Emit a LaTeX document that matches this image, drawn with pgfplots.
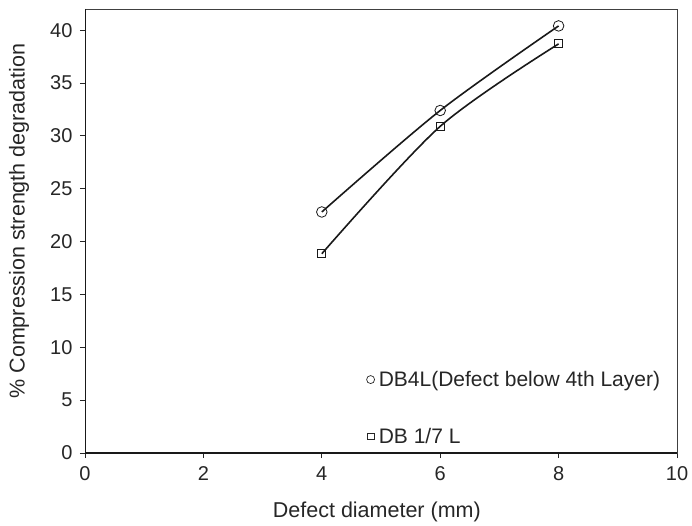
\documentclass[border=0pt]{standalone}
\usepackage{fontspec}
\setmainfont{Liberation Sans}
\usepackage{pgfplots}
\pgfplotsset{compat=1.18}
\begin{document}
\begin{tikzpicture}
\begin{axis}[
  width=592pt, height=444pt, scale only axis,
  xmin=0, xmax=10, ymin=0, ymax=42,
  xtick={0,2,...,10}, ytick={0,5,...,40},
  tick align=outside, xtick pos=bottom, ytick pos=left,
  major tick length=5pt,
  axis line style={draw=black!75, line width=0.8pt},
  every tick/.style={black!85, line width=0.8pt},
  /pgf/number format/assume math mode=true,
  tick label style={font=\fontsize{20}{24}\selectfont, text=black!85},
  yticklabel style={xshift=-4pt},
  xticklabel style={yshift=-5pt},
  xlabel={Defect diameter (mm)},
  ylabel={\% Compression strength degradation},
  xlabel style={font=\fontsize{21.5}{25}\selectfont, text=black!85,
    at={(axis description cs:0.493,-0.146)}, anchor=base},
  ylabel style={font=\fontsize{21.5}{25}\selectfont, text=black!85,
    at={(axis description cs:-0.1115,0.5225)}, anchor=center, rotate=0},
  legend style={at={(axis cs:4.75,7.85)}, anchor=north west, draw=none, fill=none,
    row sep=38pt, font=\fontsize{21}{25}\selectfont, inner sep=0pt,
    nodes={inner sep=1pt, text=black!85}},
  legend cell align=left,
  legend image code/.code={\path (0pt,0pt) (11pt,0pt); \draw[#1] plot coordinates {(4pt,0pt)};},
]
\addplot[black!90, line width=1.6pt, smooth, mark=o, mark size=5.3pt,
  mark options={solid, line width=0.8pt, fill=white}, forget plot]
  coordinates {(4,22.8) (6,32.4) (8,40.4)};
\addplot[black!90, line width=1.6pt, smooth, mark=square, mark size=4pt,
  mark options={solid, line width=0.8pt, fill=white}, forget plot]
  coordinates {(4,18.85) (6,30.9) (8,38.7)};
\addlegendimage{only marks, mark=o, mark size=4pt, black!85, mark options={line width=0.7pt}}
\addlegendentry{DB4L(Defect below 4th Layer)}
\addlegendimage{only marks, mark=square, mark size=3.4pt, black!85, mark options={line width=0.7pt}}
\addlegendentry{DB 1/7 L}
\draw[black!90, line width=1.5pt] (rel axis cs:0,1) -- (rel axis cs:0,0) -- (rel axis cs:1,0);
\end{axis}
\path (current axis.south west) ++(-85pt,-70pt) rectangle ++(692pt,523pt);
\end{tikzpicture}
\end{document}
